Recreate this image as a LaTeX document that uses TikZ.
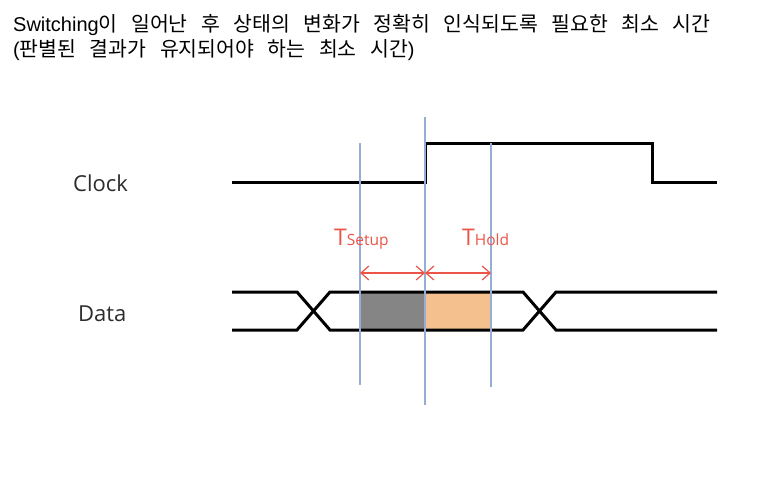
\documentclass[tikz,border=0pt]{standalone}
\usepackage{fontspec}
\setmainfont{Liberation Sans}
\newfontfamily\kr{Noto Sans CJK KR}
\newfontfamily\lbl{Open Sans}
\newcommand{\krtext}[1]{{\kr\fontsize{20.5}{24}\selectfont\spaceskip=13.5pt #1}}
\usetikzlibrary{arrows.meta}
\definecolor{vline}{RGB}{150,174,214}
\definecolor{tred}{RGB}{236,84,72}
\definecolor{boxgray}{RGB}{133,133,133}
\definecolor{boxorange}{RGB}{244,192,142}
\definecolor{lbltext}{RGB}{45,45,45}
\begin{document}
\begin{tikzpicture}[x=1pt,y=-1pt,
  wave/.style={line width=3pt,black,line join=miter},
  guide/.style={line width=1.2pt,vline},
  span/.style={line width=1.2pt,tred,{Straight Barb[length=8pt,width=14pt,line width=1.2pt]}-{Straight Barb[length=8pt,width=14pt,line width=1.2pt]}},
  sig/.style={font=\lbl\fontsize{22}{26}\selectfont,text=lbltext,inner sep=0pt,anchor=base west},
  tlbl/.style={text=tred,inner sep=0pt,anchor=base west},
  title/.style={inner sep=0pt,anchor=base west,font=\fontsize{20}{24}\selectfont}]
\useasboundingbox[fill=white] (0,0) rectangle (782,487);
% title
\node[title] (t1) at (13,32) {Switching\krtext{이 일어난 후 상태의 변화가 정확히 인식되도록 필요한 최소 시간}};
\node[title] (t2) at (13,57) {(\krtext{판별된 결과가 유지되어야 하는 최소 시간})};
% signal labels
\node[sig] (clk) at (73,191) {Clock};
\node[sig] (dat) at (78,321) {Data};
% coordinates
\coordinate (c0) at (232,182);
\coordinate (c1) at (425,182);
\coordinate (c2) at (425,143);
\coordinate (c3) at (652,143);
\coordinate (c4) at (652,182);
\coordinate (c5) at (717,182);
% boxes
\node[fill=boxgray,inner sep=0pt,minimum width=65pt,minimum height=38pt,anchor=north west] (setupbox) at (360,292) {};
\node[fill=boxorange,inner sep=0pt,minimum width=66pt,minimum height=38pt,anchor=north west] (holdbox) at (425,292) {};
% clock
\draw[wave] (c0) -- (c1) -- (c2) -- (c3) -- (c4) -- (c5);
% data
\draw[wave] (232,292) -- (297,292) -- (330,330) -- (523,330) -- (556,292) -- (717,292);
\draw[wave] (232,330) -- (297,330) -- (330,292) -- (523,292) -- (556,330) -- (717,330);
% guides
\coordinate (g1t) at (360,143); \coordinate (g1b) at (360,385);
\coordinate (g2t) at (425,117); \coordinate (g2b) at (425,405);
\coordinate (g3t) at (491,143); \coordinate (g3b) at (491,387);
\draw[guide] (g1t) -- (g1b);
\draw[guide] (g2t) -- (g2b);
\draw[guide] (g3t) -- (g3b);
% spans
\coordinate (a1) at (360,273); \coordinate (a2) at (425,273); \coordinate (a3) at (491,273);
\draw[span] (a1) -- (a2);
\draw[span] (a2) -- (a3);
\node[tlbl] (ts) at (334,245) {\lbl{\fontsize{23}{26}\selectfont T}{\fontsize{15.5}{18}\selectfont Setup}};
\node[tlbl] (th) at (462,245) {\lbl{\fontsize{23}{26}\selectfont T}{\fontsize{15.5}{18}\selectfont Hold}};
\end{tikzpicture}
\end{document}
